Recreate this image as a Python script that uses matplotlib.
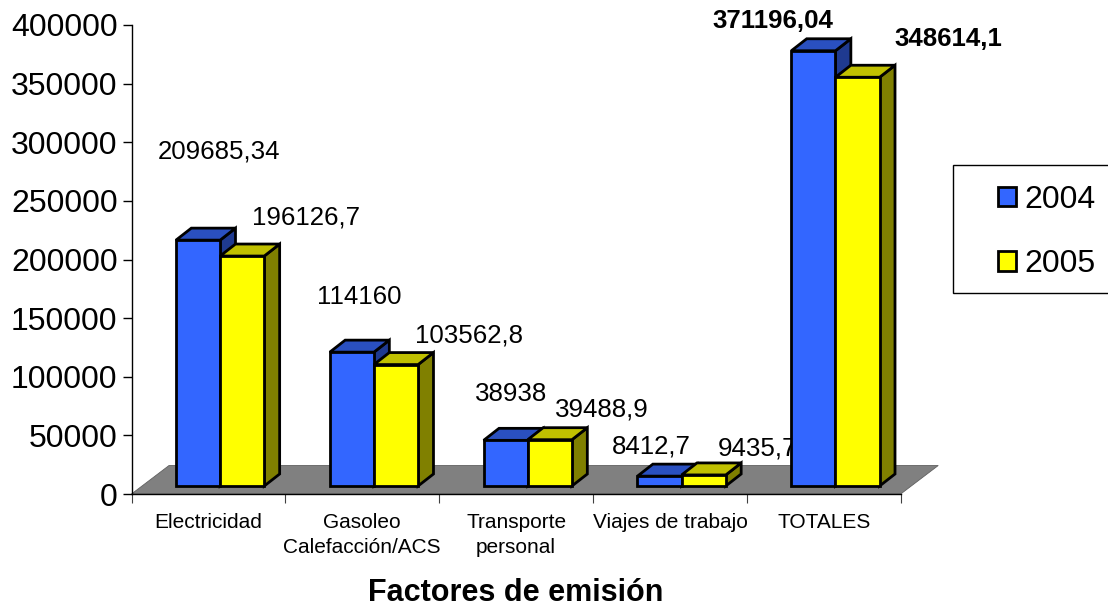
import matplotlib
matplotlib.use('Agg')
import matplotlib.pyplot as plt
from matplotlib.patches import Polygon, Rectangle

# Emission factors per year
categories = ['Electricidad', 'Gasoleo\nCalefacción/ACS', 'Transporte\npersonal', 'Viajes de trabajo', 'TOTALES']
values_2004 = [209685.34, 114160, 38938, 8412.7, 371196.04]
values_2005 = [196126.7, 103562.8, 39488.9, 9435.7, 348614.1]
labels_2004 = ['209685,34', '114160', '38938', '8412,7', '371196,04']
labels_2005 = ['196126,7', '103562,8', '39488,9', '9435,7', '348614,1']
y_ticks = [0, 50000, 100000, 150000, 200000, 250000, 300000, 350000, 400000]

# label offsets from the top of each bar, in pixels
offsets_2004 = [(21, 89), (7, 55.5), (5, 46.5), (-8, 30), (-41, 30)]
offsets_2005 = [(64, 39), (73, 29), (52, 30.5), (54, 26.5), (91, 38)]

plt.rcParams['font.family'] = ['Liberation Sans', 'DejaVu Sans']

fig = plt.figure(figsize=(11.08, 6.06), dpi=100)
ax = fig.add_axes([131.5 / 1108, (606 - 494) / 606, 769.2 / 1108, 469 / 606])
ax.set_xlim(0, 5)
ax.set_ylim(0, 400000)

# sizes of the fake 3D effect, in data units
bar_start = 0.289
bar_width = 0.287
depth_x = 0.1
depth_y = 10240
base = 6826
floor_x = 0.244
floor_y = 24300
edge = 2.0


def draw_bar(x, value, front, top, side, z):
    ytop = base + value
    ax.add_patch(Polygon([(x + bar_width, base), (x + bar_width + depth_x, base + depth_y),
                          (x + bar_width + depth_x, ytop + depth_y), (x + bar_width, ytop)],
                         facecolor=side, edgecolor='black', lw=edge, zorder=z, clip_on=False))
    ax.add_patch(Polygon([(x, ytop), (x + depth_x, ytop + depth_y),
                          (x + bar_width + depth_x, ytop + depth_y), (x + bar_width, ytop)],
                         facecolor=top, edgecolor='black', lw=edge, zorder=z, clip_on=False))
    ax.bar(x, value, bar_width, bottom=base, align='edge', color=front, edgecolor='black',
           linewidth=edge, zorder=z + 0.5, clip_on=False)


# floor
ax.add_patch(Polygon([(0, 0), (floor_x, floor_y), (5 + floor_x, floor_y), (5, 0)],
                     facecolor='#808080', edgecolor='#606060', lw=0.6, zorder=1, clip_on=False))

for i in range(len(categories)):
    draw_bar(i + bar_start, values_2004[i], '#3366FF', '#2A50C0', '#1F3A90', 3 + i)
    draw_bar(i + bar_start + bar_width, values_2005[i], '#FFFF00', '#C0C000', '#808000', 3.6 + i)

    bold = i == len(categories) - 1
    for x, val, txt, off in [(i + bar_start + bar_width / 2, values_2004[i], labels_2004[i], offsets_2004[i]),
                             (i + bar_start + 1.5 * bar_width, values_2005[i], labels_2005[i], offsets_2005[i])]:
        ax.annotate(txt, (x, base + val), xytext=(off[0] * 0.72, off[1] * 0.72), textcoords='offset points',
                    ha='center', va='center', fontsize=18.6, fontweight='bold' if bold else 'normal',
                    zorder=2, annotation_clip=False)

# axes
for s in ['top', 'right']:
    ax.spines[s].set_visible(False)
ax.spines['left'].set_linewidth(1.0)
ax.spines['bottom'].set_linewidth(1.0)
ax.spines['bottom'].set_zorder(2)
ax.set_yticks(y_ticks)
ax.set_yticklabels([str(t) for t in y_ticks], fontsize=23)
ax.tick_params(axis='y', length=6.5, width=1, pad=3.5)
ax.set_xticks(range(6))
ax.set_xticklabels([])
ax.tick_params(axis='x', which='major', length=6.5, width=0.8, color='#404040')
ax.set_xticks([i + 0.5 for i in range(5)], minor=True)
ax.set_xticklabels(categories, minor=True, fontsize=15, linespacing=1.4)
ax.tick_params(axis='x', which='minor', length=0, pad=13.5)
ax.patch.set_visible(False)

fig.text(516 / 1108, 1 - 593 / 606, 'Factores de emisión', ha='center', va='center', fontsize=22, fontweight='bold')

# legend box runs off the right edge
fig.add_artist(Rectangle((952.5 / 1108, 1 - 293 / 606), 170 / 1108, 128 / 606, transform=fig.transFigure,
                         facecolor='white', edgecolor='black', lw=1))
handles = [Rectangle((0, 0), 1, 1, facecolor='#3366FF', edgecolor='black', lw=2),
           Rectangle((0, 0), 1, 1, facecolor='#FFFF00', edgecolor='black', lw=2)]
leg = fig.legend(handles, ['2004', '2005'], loc='center left', bbox_to_anchor=(997.5 / 1108, 1 - 232 / 606),
                 frameon=False, fontsize=23, handlelength=0.58, handleheight=0.58, handletextpad=0.27,
                 labelspacing=1.08, borderpad=0, borderaxespad=0)
leg.set_zorder(5)

fig.savefig('out.png', dpi=100)
